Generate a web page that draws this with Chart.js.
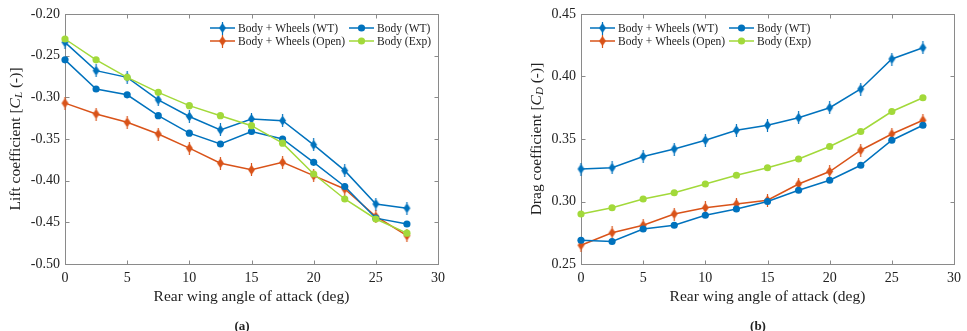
<!DOCTYPE html>
<html><head><meta charset="utf-8">
<script src="https://cdn.jsdelivr.net/npm/chart.js@4.4.0/dist/chart.umd.min.js"></script>
<style>
html,body{margin:0;padding:0;background:#fff;width:967px;height:331px;overflow:hidden;}
.wrap{position:absolute;top:0;height:331px;}
#w1{left:0;width:490px;} #w2{left:490px;width:477px;}
.cap{position:absolute;top:318px;font:bold 13px "Liberation Serif",serif;color:#222;transform:translateX(-50%);line-height:16px;}
</style></head><body>
<div class="wrap" id="w1"><canvas id="c1"></canvas></div>
<div class="wrap" id="w2"><canvas id="c2"></canvas></div>
<div class="cap" style="left:242px">(a)</div>
<div class="cap" style="left:758px">(b)</div>
<script>
// ---- data ----
const angles = [0, 2.5, 5, 7.5, 10, 12.5, 15, 17.5, 20, 22.5, 25, 27.5];
const seriesLabels = ['Body + Wheels (WT)', 'Body (WT)', 'Body + Wheels (Open)', 'Body (Exp)'];
const liftWheelsWT = [-0.234, -0.268, -0.276, -0.303, -0.323, -0.339, -0.326, -0.328, -0.357, -0.388, -0.428, -0.433];
const liftBodyWT   = [-0.255, -0.290, -0.297, -0.322, -0.343, -0.356, -0.341, -0.350, -0.378, -0.407, -0.445, -0.452];
const liftWheelsOpen = [-0.307, -0.320, -0.330, -0.344, -0.361, -0.379, -0.387, -0.378, -0.394, -0.410, -0.443, -0.466];
const liftBodyExp  = [-0.230, -0.255, -0.276, -0.294, -0.310, -0.322, -0.334, -0.355, -0.392, -0.422, -0.446, -0.463];
const dragWheelsWT = [0.326, 0.327, 0.336, 0.342, 0.349, 0.357, 0.361, 0.367, 0.375, 0.390, 0.414, 0.423];
const dragBodyWT   = [0.269, 0.268, 0.278, 0.281, 0.289, 0.294, 0.300, 0.309, 0.317, 0.329, 0.349, 0.361];
const dragWheelsOpen = [0.265, 0.275, 0.281, 0.290, 0.295, 0.298, 0.301, 0.314, 0.324, 0.341, 0.354, 0.365];
const dragBodyExp  = [0.290, 0.295, 0.302, 0.307, 0.314, 0.321, 0.327, 0.334, 0.344, 0.356, 0.372, 0.383];
const xTitle = 'Rear wing angle of attack (deg)';

// ---- styles ----
const FONT = '"Liberation Serif", serif';
const TXT = '#222';
const BLUE = '#0072BD', ORANGE = '#D95319', GREEN = '#A2D93A';

function makeDiamond(color){
  const c = document.createElement('canvas'); c.width = 9; c.height = 13;
  const g = c.getContext('2d');
  g.strokeStyle = color; g.lineWidth = 1.2;
  g.beginPath(); g.moveTo(4.5, 0); g.lineTo(4.5, 13); g.stroke();
  g.fillStyle = color;
  g.beginPath(); g.moveTo(4.5, 1.5); g.lineTo(8, 6.5); g.lineTo(4.5, 11.5); g.lineTo(1, 6.5); g.closePath(); g.fill();
  return c;
}
const diamondBlue = makeDiamond(BLUE), diamondOrange = makeDiamond(ORANGE);

function pts(vals){ return angles.map((a, i) => ({x: a, y: vals[i]})); }
function ds(label, vals, color, style, order){
  return {label, data: pts(vals), borderColor: color, backgroundColor: color,
    borderWidth: 1.5, pointStyle: style, pointRadius: 3.6, pointHoverRadius: 3.6,
    pointBorderWidth: 0, clip: false, order, tension: 0};
}

const axisBox = {
  id: 'axisBox',
  beforeDatasetsDraw(chart, args, o){
    const {ctx, chartArea: a, scales: {x, y}} = chart;
    ctx.save();
    ctx.strokeStyle = '#8a8a8a'; ctx.lineWidth = 1;
    const l = Math.round(a.left) + 0.5, r = Math.round(a.right) + 0.5, t = Math.round(a.top) + 0.5, b = Math.round(a.bottom) + 0.5;
    ctx.strokeRect(l, t, r - l, b - t);
    const L = 4;
    ctx.beginPath();
    x.ticks.forEach(tk => { const px = Math.round(x.getPixelForValue(tk.value)) + 0.5;
      ctx.moveTo(px, b); ctx.lineTo(px, b - L); ctx.moveTo(px, t); ctx.lineTo(px, t + L); });
    y.ticks.forEach(tk => { const py = Math.round(y.getPixelForValue(tk.value)) + 0.5;
      ctx.moveTo(l, py); ctx.lineTo(l + L, py); ctx.moveTo(r, py); ctx.lineTo(r - L, py); });
    ctx.stroke();
    // y-axis title with italic symbol + subscript
    ctx.translate(o.titleX, (a.top + a.bottom) / 2);
    ctx.rotate(-Math.PI / 2);
    ctx.fillStyle = TXT; ctx.textBaseline = 'middle'; ctx.textAlign = 'left';
    const parts = o.titleParts;
    let w = 0;
    parts.forEach(p => { ctx.font = p.f; p.w = ctx.measureText(p.t).width; w += p.w; });
    let cx = -w / 2;
    parts.forEach(p => { ctx.font = p.f; ctx.fillText(p.t, cx, p.dy || 0); cx += p.w; });
    ctx.restore();
  },
  afterDraw(chart, args, o){
    const {ctx} = chart;
    ctx.save();
    ctx.font = '11.5px ' + FONT; ctx.textBaseline = 'middle'; ctx.textAlign = 'left';
    chart.data.datasets.forEach((d, i) => {
      const s = o.slots[i];
      const x0 = s[0], y0 = s[1], len = 25;
      ctx.strokeStyle = d.borderColor; ctx.lineWidth = 1.5;
      ctx.beginPath(); ctx.moveTo(x0, y0); ctx.lineTo(x0 + len, y0); ctx.stroke();
      const mx = x0 + len / 2;
      if (d.pointStyle === 'circle') {
        ctx.fillStyle = d.backgroundColor; ctx.beginPath(); ctx.arc(mx, y0, 3.6, 0, Math.PI * 2); ctx.fill();
      } else {
        ctx.drawImage(d.pointStyle, mx - d.pointStyle.width / 2, y0 - d.pointStyle.height / 2);
      }
      ctx.fillStyle = TXT;
      ctx.fillText(d.label, x0 + len + 3, y0 + 0.5);
    });
    ctx.restore();
  }
};

function makeChart(id, data, yMin, yMax, yAxisW, padRight, titleX, sym, sub, slots){
  const tickFont = {family: FONT, size: 14};
  return new Chart(document.getElementById(id), {
    type: 'line',
    data: {datasets: [
      ds(seriesLabels[0], data[0], BLUE, diamondBlue, 3),
      ds(seriesLabels[1], data[1], BLUE, 'circle', 1),
      ds(seriesLabels[2], data[2], ORANGE, diamondOrange, 2),
      ds(seriesLabels[3], data[3], GREEN, 'circle', 0)
    ]},
    options: {
      responsive: true, maintainAspectRatio: false, animation: false, devicePixelRatio: 1,
      layout: {padding: {left: 0, right: padRight, top: 14, bottom: 0}},
      plugins: {legend: {display: false}, tooltip: {enabled: false},
        axisBox: {titleX, slots, titleParts: [
          {t: sym[0], f: '15.5px ' + FONT},
          {t: 'C', f: 'italic 15.5px ' + FONT},
          {t: sub, f: 'italic 11px ' + FONT, dy: 3},
          {t: ' (-)]', f: '15.5px ' + FONT}
        ]}},
      scales: {
        x: {type: 'linear', min: 0, max: 30,
          ticks: {stepSize: 5, padding: 6, font: tickFont, color: TXT, maxRotation: 0},
          grid: {display: false, drawTicks: false}, border: {display: false},
          title: {display: true, text: xTitle, color: TXT, font: {family: FONT, size: 15.5}, padding: {top: 0, bottom: 25}},
          afterFit: s => { s.height = 67; }},
        y: {type: 'linear', min: yMin, max: yMax,
          ticks: {stepSize: 0.05, padding: 5, font: tickFont, color: TXT, callback: v => Number(v).toFixed(2)},
          grid: {display: false, drawTicks: false}, border: {display: false},
          afterFit: s => { s.width = yAxisW; }}
      }
    },
    plugins: [axisBox]
  });
}

makeChart('c1', [liftWheelsWT, liftBodyWT, liftWheelsOpen, liftBodyExp], -0.5, -0.2, 65, 52, 16,
  ['Lift coefficient ['], 'L', [[210, 28], [349, 28], [210, 41], [349, 41]]);
makeChart('c2', [dragWheelsWT, dragBodyWT, dragWheelsOpen, dragBodyExp], 0.25, 0.45, 91, 13, 47,
  ['Drag coefficient ['], 'D', [[100, 28], [239, 28], [100, 41], [239, 41]]);
</script>
</body></html>
